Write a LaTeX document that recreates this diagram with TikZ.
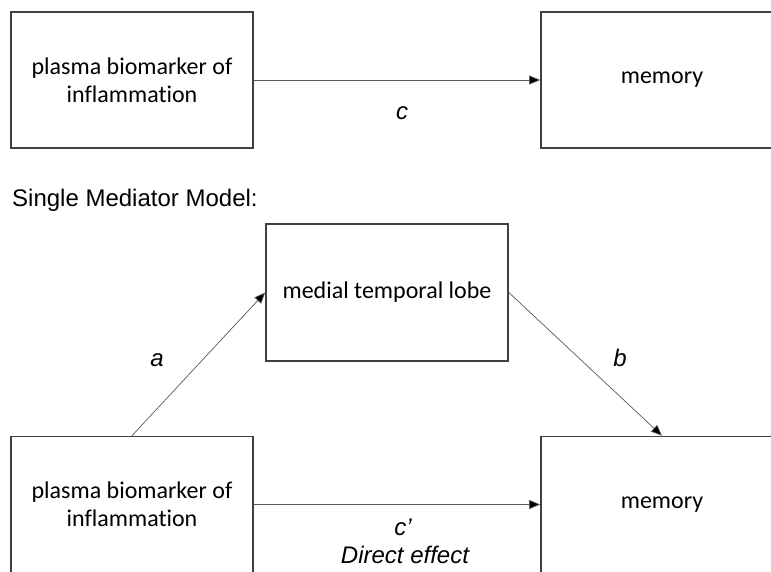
\documentclass[tikz,border=0pt]{standalone}
\usepackage{fontspec}
\setmainfont{Liberation Sans}
\newfontfamily\boxfont[Ligatures=NoCommon]{Carlito}
\usetikzlibrary{arrows.meta}
\tikzset{
  varbox/.style    = {shape=rectangle, draw=black!75, line width=1.6pt,
                      minimum width=242pt, minimum height=136pt,
                      align=center, inner sep=0pt,
                      font=\boxfont\fontsize{24}{28}\selectfont},
  pathlabel/.style = {font=\fontsize{24}{28}\selectfont\itshape, inner sep=0pt},
  effect/.style    = {draw=black!65, line width=0.7pt,
                      -{Triangle[length=11pt,width=9pt,fill=black]}}
}
\begin{document}
\begin{tikzpicture}
  [
    x = 1pt,
    y = -1pt,
    every node/.style = {font=\fontsize{24}{28}\selectfont}
  ]
  \useasboundingbox (0,0) rectangle (771,572);
  \clip (0,0) rectangle (771,572);

  % total effect
  \node [varbox] (x1) at (132,80)  {plasma biomarker of\\inflammation};
  \node [varbox] (y1) at (662,80)  {memory};
  \draw [effect] (x1.east) -- (y1.west);
  \node [pathlabel] (c) at (402,113) {c};

  \node [anchor=west, inner sep=0pt] (title) at (12,200) {Single Mediator Model:};

  % mediation
  \node [varbox, minimum height=137pt] (med) at (387,292.5) {medial temporal lobe};
  \node [varbox] (x2) at (132,504.5) {plasma biomarker of\\inflammation};
  \node [varbox] (y2) at (662,504.5) {memory};
  \draw [effect] (x2.north) -- (med.west);
  \draw [effect] (med.east) -- (y2.north);
  \draw [effect] (x2.east) -- (y2.west);
  \node [pathlabel] (a)  at (157,360) {a};
  \node [pathlabel] (b)  at (620,358) {b};
  \node [pathlabel] (c2) at (403,527) {c’};
  \node [pathlabel] (direct) at (405,555) {Direct effect};
\end{tikzpicture}
\end{document}
